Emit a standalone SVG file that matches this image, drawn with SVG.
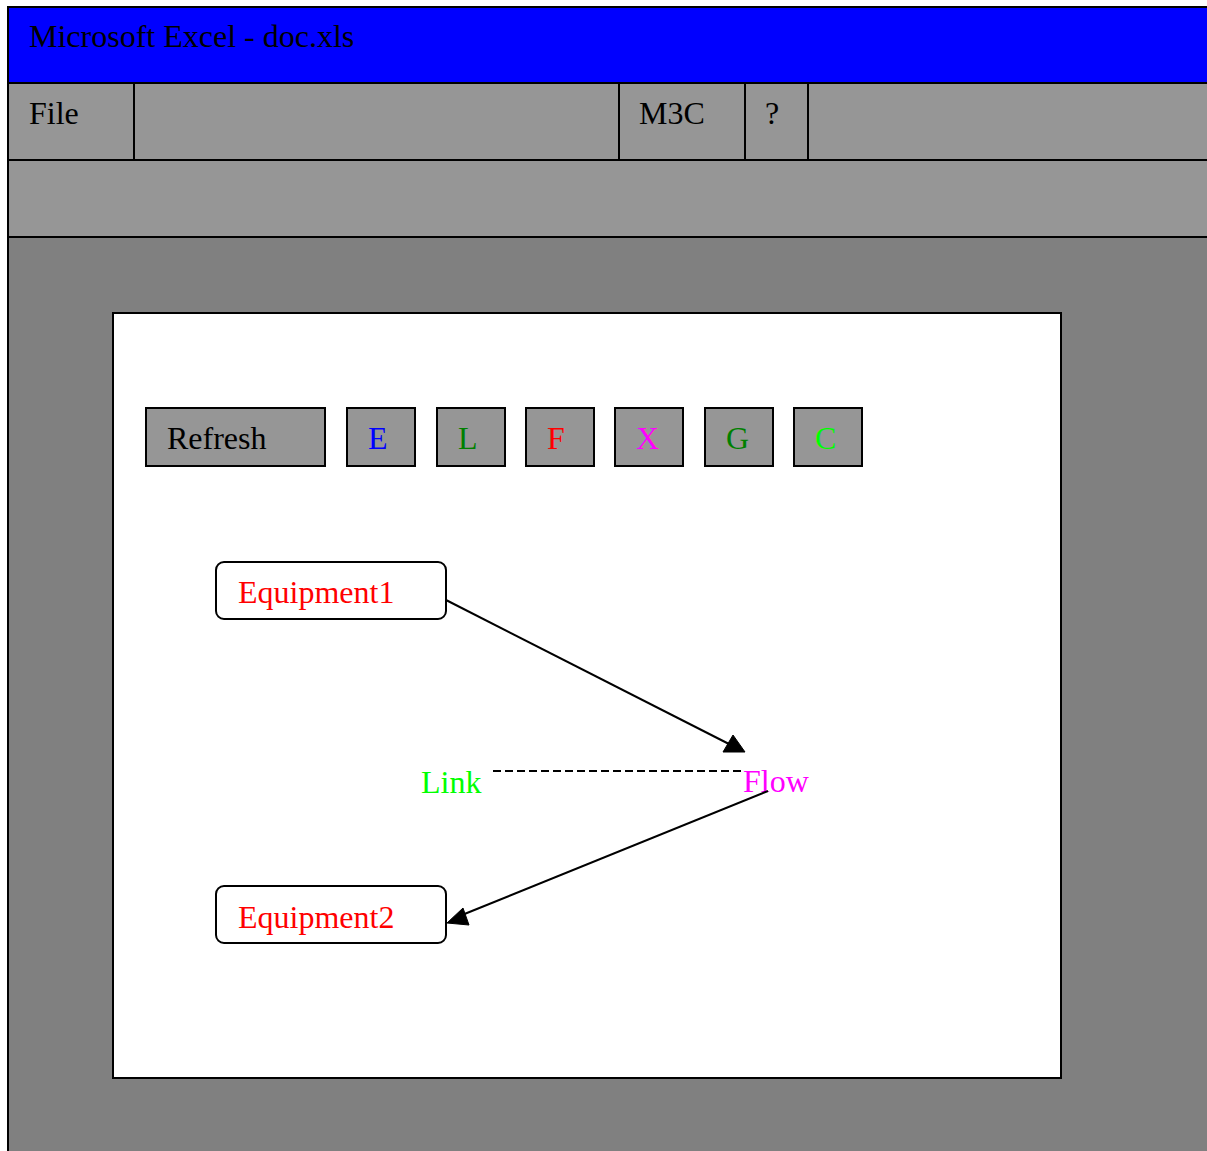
<svg xmlns="http://www.w3.org/2000/svg" width="1207" height="1151" viewBox="0 0 1207 1151">
<style>
text{font-family:"Liberation Serif","Times New Roman",serif;font-size:32px}
.bar{stroke:#000;stroke-width:2}
.menu{fill:#969696;stroke:#000;stroke-width:2}
.btn{fill:#969696;stroke:#000;stroke-width:2}
.node{fill:#fff;stroke:#000;stroke-width:2}
.edge{fill:none;stroke:#000;stroke-width:2}
</style>
<rect width="1207" height="1151" fill="#fff"/>
<g id="window">
<rect x="8" y="237" width="1210" height="930" fill="#808080" class="bar"/>
<rect x="8" y="7" width="1210" height="76" fill="#0000ff" class="bar"/>
<text x="29" y="47">Microsoft Excel - doc.xls</text>
</g>
<g id="menu">
<rect class="menu" x="8" y="83" width="126" height="77"/>
<rect class="menu" x="134" y="83" width="485" height="77"/>
<rect class="menu" x="619" y="83" width="126" height="77"/>
<rect class="menu" x="745" y="83" width="63" height="77"/>
<rect class="menu" x="808" y="83" width="410" height="77"/>
<text x="29" y="124">File</text>
<text x="639" y="124">M3C</text>
<text x="765" y="124">?</text>
</g>
<g id="toolbar"><rect class="menu" x="8" y="160" width="1210" height="77"/></g>
<g id="panel"><rect x="113" y="313" width="948" height="765" fill="#fff" stroke="#000" stroke-width="2"/></g>
<g id="btn-refresh"><rect class="btn" x="146" y="408" width="179" height="58" stroke="#333"/><text x="167" y="449">Refresh</text></g>
<g id="btn-e"><rect class="btn" x="347" y="408" width="68" height="58"/><text x="368" y="449" fill="#0000ff">E</text></g>
<g id="btn-l"><rect class="btn" x="437" y="408" width="68" height="58"/><text x="458" y="449" fill="#008000">L</text></g>
<g id="btn-f"><rect class="btn" x="526" y="408" width="68" height="58"/><text x="547" y="449" fill="#ff0000">F</text></g>
<g id="btn-x"><rect class="btn" x="615" y="408" width="68" height="58"/><text x="636" y="449" fill="#ff00ff">X</text></g>
<g id="btn-g"><rect class="btn" x="705" y="408" width="68" height="58"/><text x="726" y="449" fill="#008000">G</text></g>
<g id="btn-c"><rect class="btn" x="794" y="408" width="68" height="58"/><text x="815" y="449" fill="#00ff00">C</text></g>
<g id="equipment1"><rect class="node" x="216" y="562" width="230" height="57" rx="8"/><text x="238" y="603" fill="#ff0000">Equipment1</text></g>
<g id="equipment2"><rect class="node" x="216" y="886" width="230" height="57" rx="8"/><text x="238" y="928" fill="#ff0000">Equipment2</text></g>
<g id="link"><text x="421" y="793" fill="#00ff00">Link</text></g>
<g id="flow"><text x="743" y="792" fill="#ff00ff">Flow</text></g>
<g id="connectors">
<path class="edge" d="M446,600 L729,744"/>
<polygon points="723,752 745,752 733,735" fill="#000" stroke="#000" stroke-width="1"/>
<path class="edge" d="M493,771 L745,771" stroke-dasharray="8,4"/>
<path class="edge" d="M768,791 L462,915"/>
<polygon points="447,923 463,908 469,925" fill="#000" stroke="#000" stroke-width="1"/>
</g>
</svg>
